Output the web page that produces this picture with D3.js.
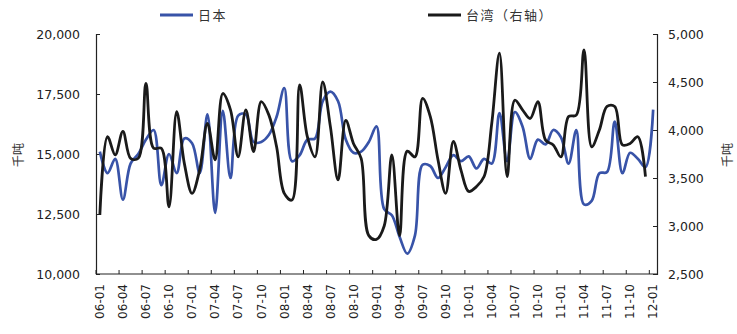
<!DOCTYPE html>
<html><head><meta charset="utf-8">
<script src="https://cdn.jsdelivr.net/npm/d3@7"></script>
<style>
html,body{margin:0;padding:0;background:#fff;}
svg{display:block;}
</style></head>
<body><svg id="c" width="737" height="334"></svg>
<script>
const months = [
"06-01","06-02","06-03","06-04","06-05","06-06","06-07","06-08","06-09","06-10","06-11","06-12",
"07-01","07-02","07-03","07-04","07-05","07-06","07-07","07-08","07-09","07-10","07-11","07-12",
"08-01","08-02","08-03","08-04","08-05","08-06","08-07","08-08","08-09","08-10","08-11","08-12",
"09-01","09-02","09-03","09-04","09-05","09-06","09-07","09-08","09-09","09-10","09-11","09-12",
"10-01","10-02","10-03","10-04","10-05","10-06","10-07","10-08","10-09","10-10","10-11","10-12",
"11-01","11-02","11-03","11-04","11-05","11-06","11-07","11-08","11-09","11-10","11-11","11-12",
"12-01"];
const japan = [
15100,14200,14800,13100,14600,15000,15600,16000,13700,15000,14200,15650,
15450,14200,16650,12550,16800,14000,16600,16650,15500,15500,15800,16550,
17750,14700,14950,15600,15650,17200,17600,17200,15600,15050,15100,15500,
16150,12700,12450,11550,10850,11600,14550,14500,14000,14450,14950,14700,
14900,14400,14800,14600,16700,14700,16750,16150,14800,15600,15400,16000,
15700,14600,16000,12900,13050,14200,14250,16350,14200,15050,14800,14450,
16850];
const taiwan = [
3115,3930,3740,3985,3705,3705,4485,3810,3810,3200,4190,3650,
3340,3590,4070,3690,4380,4210,3720,4210,3775,4295,4155,3825,
3340,3270,4470,3930,3720,4500,4035,3480,4100,3860,3705,2900,
2860,3000,3740,2900,3780,3720,4330,4140,3690,3340,3880,3580,
3360,3410,3515,4070,4800,3515,4310,4210,4120,4295,3895,3845,
3720,4140,4155,4835,3825,4000,4245,4245,3845,3860,3930,3515];
const leftTicks = [10000,12500,15000,17500,20000];
const rightTicks = [2500,3000,3500,4000,4500,5000];
const seriesNames = ["日本","台湾（右轴）"];
const unitLabel = "千吨";

const svg = d3.select("#c");
const L = 96, R = 657, T = 34, B = 274;
const numFont = "'DejaVu Sans', Verdana, sans-serif";
const cjkFont = "'Noto Sans CJK SC', sans-serif";

const x = d3.scaleBand().domain(months).range([L, R]).padding(0);
const yL = d3.scaleLinear().domain([10000, 20000]).range([B, T]);
const yR = d3.scaleLinear().domain([2500, 5000]).range([B, T]);

// left axis
const gl = svg.append("g").attr("transform", `translate(${L},0)`)
  .call(d3.axisLeft(yL).tickValues(leftTicks).tickSize(-4).tickPadding(16).tickFormat(d3.format(",")));
// right axis
const gr = svg.append("g").attr("transform", `translate(${R},0)`)
  .call(d3.axisRight(yR).tickValues(rightTicks).tickSize(-4).tickPadding(11).tickFormat(d3.format(",")));
[gl, gr].forEach(g => {
  g.select(".domain").attr("stroke", "#222").attr("stroke-width", 1.2);
  g.selectAll(".tick line").attr("stroke", "#222");
  g.selectAll(".tick text").attr("font-family", numFont).attr("font-size", 12.5).attr("fill", "#222");
});

// bottom axis
const gb = svg.append("g");
gb.append("line").attr("x1", L).attr("x2", R).attr("y1", B).attr("y2", B).attr("stroke", "#222").attr("stroke-width", 1.2);
const bw = x.bandwidth();
months.forEach((m, i) => {
  if (i % 3 === 0) {
    const xb = x(m);
    gb.append("line").attr("x1", xb).attr("x2", xb).attr("y1", B).attr("y2", B - 4).attr("stroke", "#222");
    const cx = xb + bw / 2;
    gb.append("text").attr("transform", `translate(${cx},${284}) rotate(-90)`)
      .attr("text-anchor", "end").attr("dy", "0.36em")
      .attr("font-family", numFont).attr("font-size", 12).attr("fill", "#222").text(m);
  }
});

// lines
const lineJ = d3.line().x((d, i) => x(months[i]) + bw / 2).y(d => yL(d)).curve(d3.curveCatmullRom.alpha(0.5));
const lineT = d3.line().x((d, i) => x(months[i]) + bw / 2).y(d => yR(d)).curve(d3.curveCatmullRom.alpha(0.5));
svg.append("path").datum(japan).attr("d", lineJ).attr("fill", "none").attr("stroke", "#3853a8").attr("stroke-width", 2.7).attr("stroke-linejoin", "round");
svg.append("path").datum(taiwan).attr("d", lineT).attr("fill", "none").attr("stroke", "#1a1a1a").attr("stroke-width", 2.8).attr("stroke-linejoin", "round");

// unit labels
svg.append("text").attr("transform", "translate(19,155) rotate(-90)").attr("text-anchor", "middle").attr("dy", "0.36em")
  .attr("font-family", cjkFont).attr("font-size", 12).attr("fill", "#333").text(unitLabel);
svg.append("text").attr("transform", "translate(728,155) rotate(-90)").attr("text-anchor", "middle").attr("dy", "0.36em")
  .attr("font-family", cjkFont).attr("font-size", 12).attr("fill", "#333").text(unitLabel);

// legend
const leg = [{x: 160, color: "#3853a8", name: seriesNames[0]}, {x: 428, color: "#1a1a1a", name: seriesNames[1]}];
leg.forEach(d => {
  svg.append("line").attr("x1", d.x).attr("x2", d.x + 33).attr("y1", 15).attr("y2", 15).attr("stroke", d.color).attr("stroke-width", 3);
  svg.append("text").attr("x", d.x + 38).attr("y", 15).attr("dy", "0.36em")
    .attr("font-family", cjkFont).attr("font-size", 13).attr("letter-spacing", 1.5).attr("fill", "#333").text(d.name);
});
</script></body></html>
